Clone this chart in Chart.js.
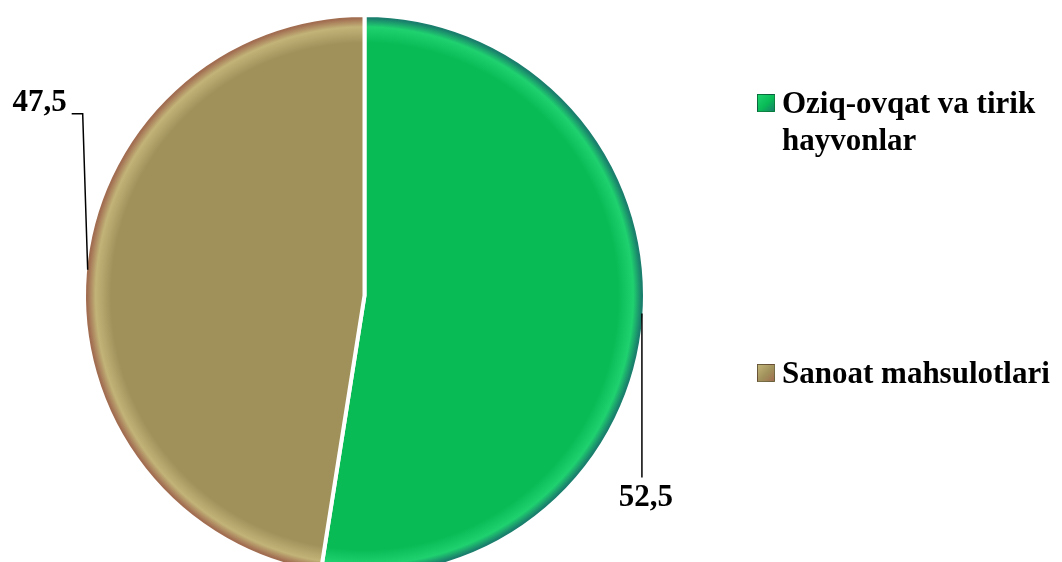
<!DOCTYPE html>
<html>
<head>
<meta charset="utf-8">
<script src="https://cdn.jsdelivr.net/npm/chart.js@4.4.1/dist/chart.umd.min.js"></script>
<style>
  html, body { margin: 0; padding: 0; background: #fff; overflow: hidden; width: 1062px; height: 562px; }
  #wrap { position: absolute; left: 0; top: 0; width: 1062px; height: 590px; }
  .legend { position: absolute; left: 757px; font: bold 31px "Liberation Serif", "Times New Roman", serif; color: #000; }
  .item { position: absolute; left: 0; width: 300px; line-height: 37px; }
  .item .box { position: absolute; left: 0; top: 10px; width: 18px; height: 18px; box-sizing: border-box; border: 1px solid rgba(0,0,0,0.35); }
  .item .txt { margin-left: 25px; display: block; }
</style>
</head>
<body>
<div id="wrap"><canvas id="pie"></canvas></div>
<div class="legend" id="legend"></div>
<script>
const categories = ['Oziq-ovqat va tirik hayvonlar', 'Sanoat mahsulotlari']
const shares = [52.5, 47.5]
const baseColors = ['#08bb55', '#a0915b']
const lightColors = ['#1fd26f', '#c2b478']
const darkColors = ['#1a7f6c', '#a26e52']

const pieCanvas = document.getElementById('pie')

// legend drawn as html, so the long label can wrap like the original
const legendTops = [84, 354]
const legend = document.getElementById('legend')
categories.forEach((name, i) => {
    const item = document.createElement('div')
    item.className = 'item'
    item.style.top = legendTops[i] + 'px'
    item.innerHTML = '<span class="box" style="background:linear-gradient(135deg,' + lightColors[i] + ',' + baseColors[i] + ' 55%,' + darkColors[i] + ')"></span><span class="txt">' + name + '</span>'
    legend.appendChild(item)
})

function sliceFill(c) {
    const chart = c.chart
    const area = chart.chartArea
    const i = c.dataIndex
    if (!area) return baseColors[i]
    const cx = (area.left + area.right) / 2
    const cy = (area.top + area.bottom) / 2
    const r = Math.min(area.width, area.height) / 2 - 4
    const g = chart.ctx.createRadialGradient(cx, cy + 8, 0, cx, cy, r)
    g.addColorStop(0, baseColors[i])
    g.addColorStop(0.91, baseColors[i])
    g.addColorStop(0.965, lightColors[i])
    g.addColorStop(0.995, darkColors[i])
    g.addColorStop(1, darkColors[i])
    return g
}

const fmt = v => v.toFixed(1).replace('.', ',')

// value labels with leader lines, anchored on the arc edge
const sliceLabels = {
    id: 'sliceLabels',
    afterDatasetsDraw(chart) {
        const ctx = chart.ctx
        const arcs = chart.getDatasetMeta(0).data
        ctx.save()
        ctx.font = 'bold 31px "Liberation Serif", "Times New Roman", serif'
        ctx.fillStyle = '#000'
        ctx.strokeStyle = '#000'
        ctx.lineWidth = 1.5
        ctx.textBaseline = 'middle'
        arcs.forEach((arc, i) => {
            const p = arc.getProps(['x', 'y', 'outerRadius'], true)
            const r = p.outerRadius - 2.5
            const text = fmt(shares[i])
            if (i === 0) {
                const a = 3.7 * Math.PI / 180
                const ax = p.x + Math.cos(a) * r
                const ay = p.y + Math.sin(a) * r
                ctx.beginPath()
                ctx.moveTo(ax, ay)
                ctx.lineTo(ax, ay + 164)
                ctx.stroke()
                ctx.textAlign = 'center'
                ctx.fillText(text, ax + 4, ay + 185)
            } else {
                const a = 185.3 * Math.PI / 180
                const ax = p.x + Math.cos(a) * r
                const ay = p.y + Math.sin(a) * r
                ctx.beginPath()
                ctx.moveTo(ax, ay)
                ctx.lineTo(ax - 5, ay - 156)
                ctx.lineTo(ax - 16, ay - 156)
                ctx.stroke()
                ctx.textAlign = 'right'
                ctx.fillText(text, ax - 21, ay - 167)
            }
        })
        ctx.restore()
    }
}

new Chart(pieCanvas, {
    type: 'pie',
    data: {
        labels: categories,
        datasets: [{
            data: shares,
            backgroundColor: sliceFill,
            borderColor: '#ffffff',
            borderWidth: 4
        }]
    },
    options: {
        responsive: true,
        maintainAspectRatio: false,
        animation: false,
        layout: { padding: { left: 82, right: 415, top: 13, bottom: 12 } },
        plugins: {
            legend: { display: false },
            tooltip: { enabled: false }
        }
    },
    plugins: [sliceLabels]
})
</script>
</body>
</html>
